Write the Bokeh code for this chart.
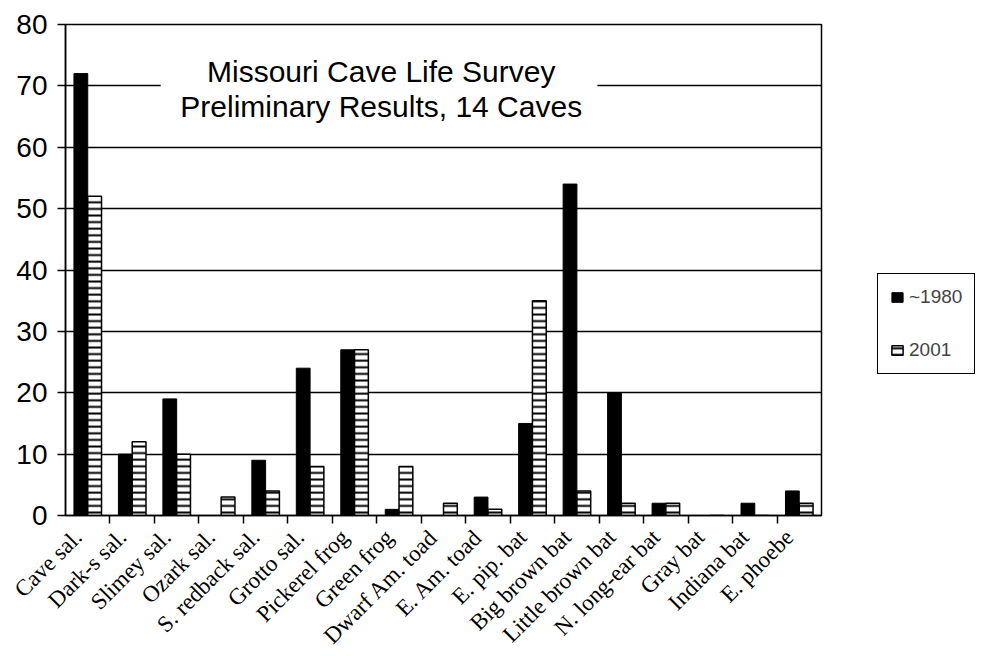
import numpy as np
from bokeh.plotting import figure
from bokeh.models import (Range1d, FixedTicker, Legend, LegendItem, Label,
                          BoxAnnotation, ColumnDataSource)
from bokeh.embed import file_html
from bokeh.resources import INLINE
from math import pi

categories = ["Cave sal.", "Dark-s sal.", "Slimey sal.", "Ozark sal.",
              "S. redback sal.", "Grotto sal.", "Pickerel frog", "Green frog",
              "Dwarf Am. toad", "E. Am. toad", "E. pip. bat", "Big brown bat",
              "Little brown bat", "N. long-ear bat", "Gray bat", "Indiana bat",
              "E. phoebe"]
y1980 = [72, 10, 19, 0, 9, 24, 27, 1, 0, 3, 15, 54, 20, 2, 0, 2, 4]
y2001 = [52, 12, 10, 3, 4, 8, 27, 8, 2, 1, 35, 4, 2, 2, 0, 0, 2]
y_ticks = [0, 10, 20, 30, 40, 50, 60, 70, 80]
title_lines = ["Missouri Cave Life Survey", "Preliminary Results, 14 Caves"]
series_names = ["~1980", "2001"]

n = len(categories)
centers = np.arange(n) + 0.5
bw = 0.31
label_shift = 0.22

src = ColumnDataSource(dict(
    x1=centers - bw / 2, x2=centers + bw / 2, a=y1980, b=y2001))

p = figure(frame_width=756, frame_height=491, output_backend="svg",
           toolbar_location=None,
           x_range=Range1d(0, n), y_range=Range1d(0, 80),
           min_border_left=65, min_border_right=160, min_border_top=24,
           min_border_bottom=135)

p.outline_line_color = "black"
p.outline_line_width = 1.5
p.outline_line_alpha = 1
p.xgrid.grid_line_color = None
p.ygrid.grid_line_color = "black"
p.ygrid.grid_line_width = 1.5
p.ygrid.ticker = FixedTicker(ticks=y_ticks)

r1 = p.vbar(x="x1", top="a", width=bw, source=src, fill_color="black",
            line_color="black", line_width=1)
r2 = p.vbar(x="x2", top="b", width=bw, source=src, fill_color="white",
            line_color="black", line_width=1.5, hatch_pattern="horizontal_line",
            hatch_color="black", hatch_scale=6.6, hatch_weight=2)

# y axis
ya = p.yaxis[0]
ya.ticker = FixedTicker(ticks=y_ticks)
ya.axis_line_color = "black"
ya.axis_line_width = 1.5
ya.major_tick_in = 0
ya.major_tick_out = 8
ya.major_tick_line_width = 1.5
ya.minor_tick_line_color = None
ya.major_label_standoff = 10
ya.major_label_text_font = "Liberation Sans"
ya.major_label_text_font_size = "28px"
ya.major_label_text_color = "black"

# x axis
label_pos = [float(c - label_shift) for c in centers]
xa = p.xaxis[0]
xa.ticker = FixedTicker(ticks=label_pos, minor_ticks=list(np.arange(1, n)))
xa.major_label_overrides = {lp: cat for lp, cat in zip(label_pos, categories)}
xa.axis_line_color = "black"
xa.axis_line_width = 1.5
xa.major_tick_in = 0
xa.major_tick_out = 0
xa.minor_tick_in = 0
xa.minor_tick_out = 8
xa.minor_tick_line_width = 1.5
xa.minor_tick_line_color = "black"
xa.major_label_orientation = pi / 4
xa.major_label_standoff = 10
xa.major_label_text_font = "Liberation Serif"
xa.major_label_text_font_size = "23px"
xa.major_label_text_color = "black"

# title box inside plot
box = BoxAnnotation(left=2.14, right=11.96, bottom=62, top=77,
                    fill_color="white", fill_alpha=1, line_color=None)
p.add_layout(box)
for txt, yy in zip(title_lines, [72.4, 66.6]):
    p.add_layout(Label(x=7.1, y=yy, text=txt, text_align="center",
                       text_baseline="middle", text_font="Liberation Sans",
                       text_font_size="30px", text_color="black"))

legend = Legend(items=[LegendItem(label=series_names[0], renderers=[r1]),
                       LegendItem(label=series_names[1], renderers=[r2])],
                location=(56, 141))
legend.border_line_color = "black"
legend.border_line_width = 1.5
legend.border_line_alpha = 1
legend.background_fill_color = "white"
legend.padding = 12
legend.spacing = 31
legend.glyph_width = 14
legend.glyph_height = 12
legend.label_standoff = 5
legend.label_text_font = "Liberation Sans"
legend.label_text_font_size = "19px"
legend.label_height = 20
legend.margin = 0
p.add_layout(legend, "right")

open("out.html", "w").write(file_html(p, INLINE))
